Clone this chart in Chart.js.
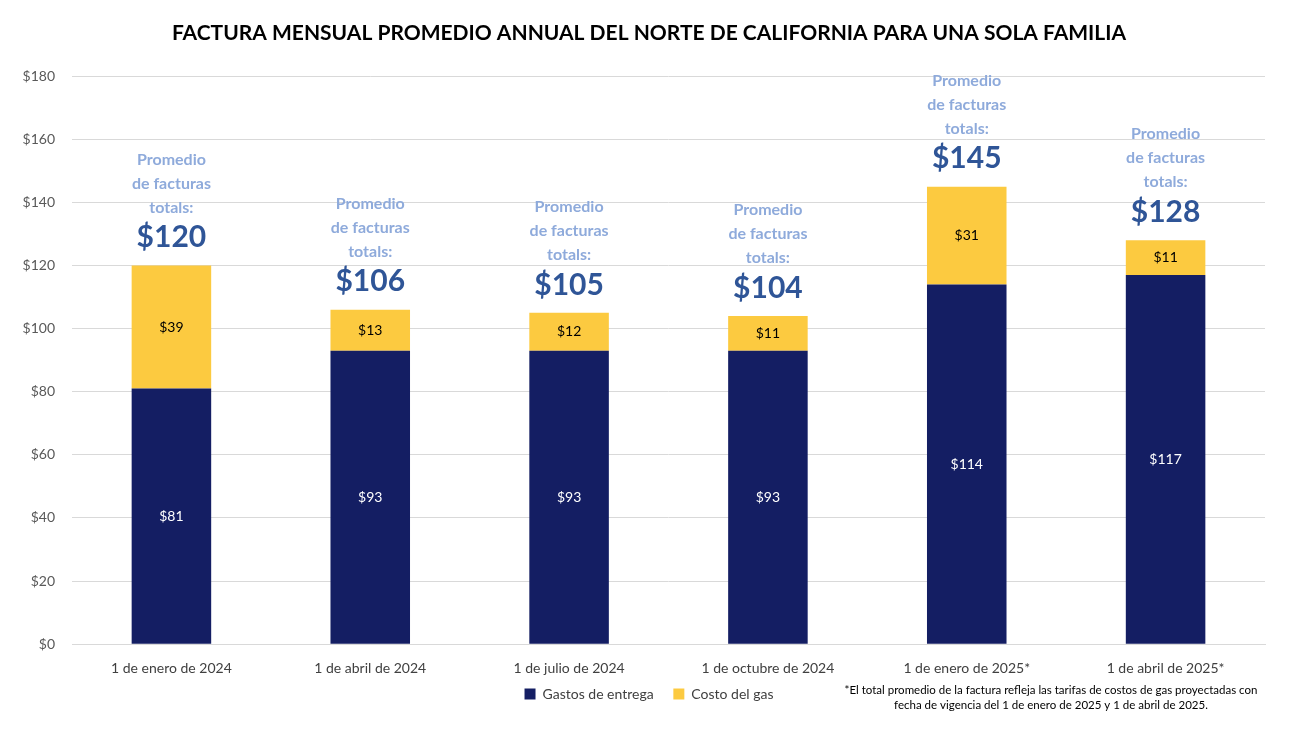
<!DOCTYPE html>
<html>
<head>
<meta charset="utf-8">
<script src="https://cdn.jsdelivr.net/npm/chart.js@4.4.1/dist/chart.umd.min.js"></script>
<style>
  html, body { margin: 0; padding: 0; background: #ffffff; }
  #wrap { width: 1298px; height: 730px; }
</style>
</head>
<body>
<div id="wrap"><canvas id="chart" width="1298" height="730"></canvas></div>
<script>
// chart data
const categories = ['1 de enero de 2024', '1 de abril de 2024', '1 de julio de 2024', '1 de octubre de 2024', '1 de enero de 2025*', '1 de abril de 2025*'];
const deliveryCosts = [81, 93, 93, 93, 114, 117];
const gasCosts = [39, 13, 12, 11, 31, 11];
const totals = [120, 106, 105, 104, 145, 128];
const seriesNames = ['Gastos de entrega', 'Costo del gas'];
const yTicks = [0, 20, 40, 60, 80, 100, 120, 140, 160, 180];
const titleText = 'FACTURA MENSUAL PROMEDIO ANNUAL DEL NORTE DE CALIFORNIA PARA UNA SOLA FAMILIA';
const totalLabelLines = ['Promedio', 'de facturas', 'totals:'];
const footnoteLines = [
    '*El total promedio de la factura refleja las tarifas de costos de gas proyectadas con',
    'fecha de vigencia del 1 de enero de 2025 y 1 de abril de 2025.'
];

const FONT = 'Lato, "Open Sans", sans-serif';

// labels inside each bar segment
const segmentLabels = {
    id: 'segmentLabels',
    afterDatasetsDraw(chart) {
        const ctx = chart.ctx;
        ctx.save();
        ctx.font = '14px ' + FONT;
        ctx.textAlign = 'center';
        ctx.textBaseline = 'middle';
        chart.data.datasets.forEach((ds, di) => {
            const meta = chart.getDatasetMeta(di);
            meta.data.forEach((bar, i) => {
                const mid = (bar.y + bar.base) / 2;
                ctx.fillStyle = di === 0 ? '#ffffff' : '#000000';
                ctx.fillText('$' + ds.data[i], bar.x, mid);
            });
        });
        ctx.restore();
    }
};

// "Promedio de facturas totals: $X" above each bar, plus footnote
const totalLabels = {
    id: 'totalLabels',
    afterDraw(chart) {
        const ctx = chart.ctx;
        const meta = chart.getDatasetMeta(1);
        ctx.save();
        ctx.textAlign = 'center';
        ctx.textBaseline = 'middle';
        meta.data.forEach((bar, i) => {
            const top = bar.y;
            ctx.fillStyle = '#2F5597';
            ctx.font = 'bold 30px ' + FONT;
            ctx.fillText('$' + totals[i], bar.x, top - 28);
            ctx.fillStyle = '#8EAADB';
            ctx.font = 'bold 16px ' + FONT;
            totalLabelLines.forEach((line, k) => {
                ctx.fillText(line, bar.x, top - 58 - (2 - k) * 24);
            });
        });
        ctx.fillStyle = '#000000';
        ctx.font = '11.5px ' + FONT;
        footnoteLines.forEach((line, k) => {
            ctx.fillText(line, 1051, 690 + k * 15);
        });
        ctx.restore();
    }
};

new Chart(document.getElementById('chart'), {
    type: 'bar',
    data: {
        labels: categories,
        datasets: [{
            label: seriesNames[0],
            data: deliveryCosts,
            backgroundColor: '#141E63'
        }, {
            label: seriesNames[1],
            data: gasCosts,
            backgroundColor: '#FCCA40'
        }]
    },
    options: {
        responsive: false,
        animation: false,
        layout: { padding: { left: 0, right: 0, top: 0, bottom: 19 } },
        datasets: { bar: { categoryPercentage: 1, barPercentage: 0.4 } },
        plugins: {
            title: {
                display: true,
                text: titleText,
                color: '#000000',
                font: { family: FONT, size: 21, weight: 'bold' },
                padding: { top: 21, bottom: 30 }
            },
            legend: {
                position: 'bottom',
                labels: {
                    color: '#404040',
                    font: { family: FONT, size: 14 },
                    boxWidth: 11,
                    boxHeight: 11,
                    padding: 2,
                    // extra gap after the first item
                    generateLabels(chart) {
                        const items = Chart.defaults.plugins.legend.labels.generateLabels(chart);
                        items[0].text = items[0].text + '\u2003  ';
                        return items;
                    }
                }
            },
            tooltip: { enabled: false }
        },
        scales: {
            x: {
                stacked: true,
                grid: { display: false },
                border: { color: '#d9d9d9' },
                ticks: { color: '#404040', font: { family: FONT, size: 14 }, padding: 8, maxRotation: 0 }
            },
            y: {
                stacked: true,
                min: 0,
                max: 180,
                afterFit(scale) { scale.width = 72; },
                afterBuildTicks(scale) { scale.ticks = yTicks.map(v => ({ value: v })); },
                grid: { color: '#d9d9d9', drawTicks: false },
                border: { display: false },
                ticks: {
                    color: '#595959',
                    font: { family: FONT, size: 14 },
                    padding: 17,
                    callback: v => '$' + v
                }
            },
            // empty right axis, only reserves the right margin
            yRight: {
                position: 'right',
                min: 0,
                max: 180,
                afterFit(scale) { scale.width = 33; },
                grid: { display: false },
                border: { display: false },
                ticks: { display: false }
            }
        }
    },
    plugins: [segmentLabels, totalLabels]
});
</script>
</body>
</html>
